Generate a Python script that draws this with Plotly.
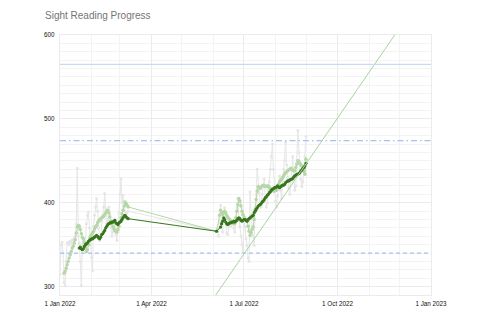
import pandas as pd
import plotly.graph_objects as go

# ---------------- data (day offsets from 1 Jan 2022) ----------------
start = pd.Timestamp("2022-01-01")

raw_days = list(range(0, 68)) + list(range(154, 243))
raw_vals = [314, 350, 353, 340, 305, 301, 330, 352, 353, 350, 354, 352, 356, 355, 358, 360,
            375, 441, 360, 352, 330, 301, 350, 355, 348, 352, 375, 385, 389, 370, 350, 335,
            319, 372, 385, 395, 405, 390, 370, 355, 360, 378, 385, 395, 411, 392, 375, 380,
            395, 386, 370, 360, 365, 372, 380, 362, 355, 368, 388, 410, 429, 400, 409, 395,
            390, 385, 388, 390,
            366, 370, 360, 375, 397, 378, 365, 381, 394, 382, 364, 362, 376, 380, 372, 375,
            378, 370, 365, 382, 395, 405, 381, 372, 360, 350, 342, 380, 372, 357, 349, 334,
            330, 413, 385, 370, 360, 349, 395, 410, 440, 420, 412, 400, 395, 410, 420, 428,
            405, 395, 400, 415, 425, 440, 455, 470, 440, 415, 402, 395, 408, 420, 432, 415,
            405, 425, 440, 450, 472, 445, 430, 418, 410, 425, 440, 455, 430, 415, 420, 448,
            486, 460, 440, 428, 419, 425, 440, 455, 479, 496]

short_days = list(range(4, 68)) + [154] + list(range(157, 243))
short_vals = [316, 318, 322, 326, 330, 334, 338, 342, 346, 348, 352, 356, 364, 371, 373, 372,
              368, 363, 359, 357, 353, 347, 342, 344, 350, 357, 360, 362, 364, 366, 369, 371,
              373, 376, 378, 380, 381, 382, 383, 384, 386, 388, 390, 391, 388, 383, 378, 375,
              372, 369, 367, 366, 365, 368, 372, 377, 382, 387, 391, 396, 401, 399, 397, 395,
              366,
              385, 391, 389, 386, 388, 390, 388, 385, 383, 381, 380, 378, 377, 376, 375, 375,
              382, 390, 398, 405, 402, 396, 390, 386, 383, 381, 379, 378, 372, 366, 361, 364,
              368, 371, 380, 392, 404, 414, 419, 418, 417, 419, 420, 421, 420, 420, 419, 420,
              420, 418, 417, 416, 415, 414, 414, 415, 415, 418, 422, 425, 427, 428, 430, 432,
              434, 436, 437, 438, 439, 440, 441, 440, 439, 438, 438, 442, 446, 450, 449, 447,
              445, 444, 441, 437, 434, 452]

long_days = list(range(19, 68)) + [154] + list(range(158, 243))
long_vals = [346, 347, 345, 344, 345, 348, 350, 351, 352, 354, 355, 356, 357, 357, 358, 359,
             360, 361, 360, 358, 357, 359, 362, 363, 365, 367, 370, 372, 374, 375, 376, 376,
             377, 377, 378, 379, 376, 375, 374, 376, 377, 378, 380, 382, 384, 385, 383, 382,
             381,
             366,
             371, 375, 378, 382, 380, 377, 375, 374, 375, 376, 376, 377, 377, 378, 377, 378,
             379, 381, 382, 381, 379, 378, 379, 380, 380, 379, 378, 380, 381, 382, 383, 384,
             385, 388, 390, 392, 394, 396, 397, 398, 399, 401, 402, 404, 406, 407, 409, 410,
             412, 413, 415, 416, 417, 418, 418, 419, 420, 419, 418, 419, 420, 421, 421, 422,
             424, 425, 426, 426, 427, 428, 428, 429, 431, 432, 433, 434, 434, 435, 436, 438,
             439, 441, 442, 444, 447]

trend_days = [139, 343]
trend_vals = [265, 624]

ref_levels = [565, 474, 340]
ref_dashes = ["solid", "6px,3px,1.5px,3px", "4px,3px"]
ref_colors = ["#c9daf8", "#a4c2f4", "#a4c2f4"]

x_tick_vals = ["2022-01-01", "2022-04-01", "2022-07-01", "2022-10-01", "2023-01-01"]
x_tick_text = ["1 Jan 2022", "1 Apr 2022", "1 Jul 2022", "1 Oct 2022", "1 Jan 2023"]
y_tick_vals = [300, 400, 500, 600]

def to_dates(days):
    return [start + pd.Timedelta(days=d) for d in days]

fig = go.Figure()

fig.add_trace(go.Scatter(x=to_dates(raw_days), y=raw_vals, mode="lines+markers",
                         line=dict(color="#e6e6e6", width=1),
                         marker=dict(color="#e6e6e6", size=3), showlegend=False))
fig.add_trace(go.Scatter(x=to_dates(short_days), y=short_vals, mode="lines+markers",
                         line=dict(color="#b6d7a8", width=1),
                         marker=dict(color="#b6d7a8", size=3.5), showlegend=False))
fig.add_trace(go.Scatter(x=to_dates(long_days), y=long_vals, mode="lines+markers",
                         line=dict(color="#38761d", width=1),
                         marker=dict(color="#38761d", size=3.2), showlegend=False))
fig.add_trace(go.Scatter(x=to_dates(trend_days), y=trend_vals, mode="lines",
                         line=dict(color="#a8d5a0", width=1), showlegend=False))

for lvl, dsh, col in zip(ref_levels, ref_dashes, ref_colors):
    fig.add_hline(y=lvl, line=dict(color=col, width=1.3, dash=dsh), layer="above")

font_family = "Liberation Sans, Arial, sans-serif"

fig.update_layout(
    width=480, height=320,
    margin=dict(l=60, r=49, t=35, b=23),
    paper_bgcolor="white", plot_bgcolor="white",
    title=dict(text="Sight Reading Progress", x=45 / 480, xanchor="left",
               y=1 - 15 / 320, yanchor="middle",
               font=dict(family=font_family, size=10, color="#757575")),
    font=dict(family=font_family, size=6.3, color="#111111"),
)
fig.update_xaxes(range=["2022-01-01", "2023-01-01"], tickvals=x_tick_vals, ticktext=x_tick_text,
                 showgrid=True, gridcolor="#ebebeb", gridwidth=1.2, zeroline=False,
                 showline=True, linecolor="#ebebeb", linewidth=1.2, mirror=True,
                 ticks="", ticklabelstandoff=2,
                 minor=dict(dtick="M1", tick0="2022-01-01", showgrid=True,
                            gridcolor="#f3f3f3", gridwidth=1))
fig.update_yaxes(range=[290, 600], tickvals=y_tick_vals,
                 showgrid=True, gridcolor="#ebebeb", gridwidth=1.2, zeroline=False,
                 showline=True, linecolor="#ebebeb", linewidth=1.2, mirror=True,
                 ticks="", ticklabelstandoff=3,
                 minor=dict(dtick=10, showgrid=True, gridcolor="#f3f3f3", gridwidth=1))

fig.write_html("out.html")
